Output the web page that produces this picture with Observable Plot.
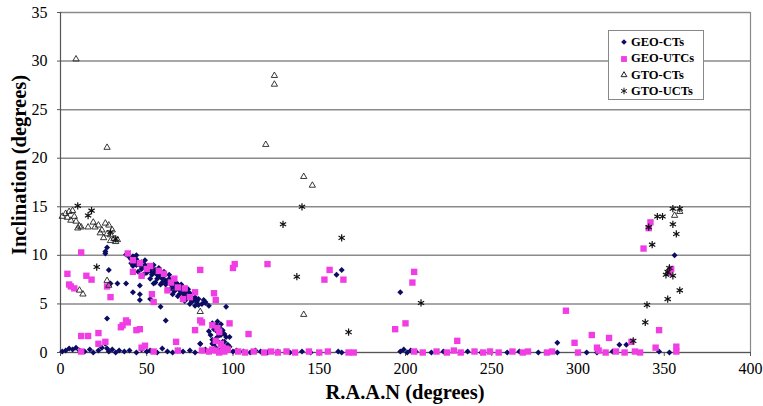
<!DOCTYPE html>
<html>
<head>
<meta charset="utf-8">
<script src="https://cdn.jsdelivr.net/npm/d3@7"></script>
<script src="https://cdn.jsdelivr.net/npm/@observablehq/plot@0.6"></script>
<style>
  body { margin: 0; background: #fff; }
  #chart { position: relative; width: 763px; height: 406px; overflow: hidden; }
  .title { position: absolute; font: bold 20.5px "Liberation Serif", "Times New Roman", serif; color: #000; white-space: nowrap; }
  #xtitle { left: 405px; top: 392px; transform: translate(-50%, -50%); }
  #ytitle { left: 19px; top: 165px; transform: translate(-50%, -50%) rotate(-90deg); }
  #legend { position: absolute; left: 608px; top: 30px; width: 96px; height: 70px; box-sizing: border-box;
            border: 1px solid #888; background: #fff; padding: 3px 0 0 11px;
            font: bold 12.5px "Liberation Serif", "Times New Roman", serif; }
  #legend div { height: 16.4px; line-height: 16.4px; white-space: nowrap; }
  #legend svg { vertical-align: middle; margin-right: 3px; position: relative; top: -1px; }
</style>
</head>
<body>
<div id="chart"></div>
<script>
// Axis ticks
const xTicks = [0, 50, 100, 150, 200, 250, 300, 350, 400];
const yTicks = [0, 5, 10, 15, 20, 25, 30, 35];

// Series names (legend order)
const seriesNames = ["GEO-CTs", "GEO-UTCs", "GTO-CTs", "GTO-UCTs"];

// GEO-CTs: [R.A.A.N, inclination] in degrees
const geoCTs = [
  [1,0.1],[3,0.2],[5,0.4],[7,0.3],[9,0.5],[11,0.2],[14,0.1],[17,0.3],[19,0.0],[22,0.2],[24,0.5],[26,0.9],
  [27,0.4],[28,0.1],[30,0.3],[32,0.0],[34,0.2],[37,0.1],[40,0.2],[44,0.0],[47,0.3],[50,0.1],[52,0.2],[56,0.0],
  [59,0.4],[62,0.1],[65,0.0],[68,0.2],[71,0.1],[75,0.2],[78,0.0],[81,0.9],[84,0.3],[86,0.1],[88,0.9],[90,0.5],
  [92,0.2],[94,1.1],[96,0.3],[98,0.6],[100,0.1],[102,0.2],[106,0.1],[110,0.0],[113,0.2],[116,0.1],[120,0.0],
  [126,0.1],[133,0.0],[140,0.1],[145,0.0],[161,0.1],[163,0.0],[197,0.1],[199,0.3],[201,0.0],[203,0.2],[206,0.1],
  [215,0.0],[222,0.1],[236,0.1],[244,0.0],[249,0.1],[259,0.0],[266,0.1],[277,0.0],[288,0.0],[288,1.0],[305,0.0],
  [311,0.0],[320,0.1],[324,0.8],[328,0.8],[347,0.1],[353,0.0],
  [26,10.4],[27,10.8],[26,10.2],[28,8.5],[27,3.5],[29,7.1],[33,7.1],[38,7.1],[42,6.2],[46,6.0],[46,6.9],
  [54,7.1],[46,5.4],[52,5.5],[58,4.7],[61,3.3],
  [38,10.1],[40,9.8],[41,9.6],[42,9.9],[43,9.4],[44,9.6],[45,9.2],[46,9.0],[47,9.3],[48,8.8],[49,9.0],[50,8.6],
  [51,8.9],[52,8.4],[53,8.7],[54,8.2],[55,8.5],[56,8.0],[57,7.8],[58,8.1],[59,7.6],[60,7.9],[61,7.4],[62,7.2],
  [63,7.6],[64,7.0],[65,7.3],[66,6.8],[67,6.6],[68,7.0],[69,6.4],[70,6.7],[71,6.2],[72,6.0],[73,6.3],[74,5.8],
  [75,6.1],[76,5.6],[77,5.4],[78,5.7],[79,5.2],[80,5.5],[82,5.0],[84,5.2],[86,4.8],
  [42,8.9],[45,8.3],[48,8.0],[52,7.6],[55,7.2],[58,7.0],[62,6.4],[65,6.0],[68,5.8],[72,5.3],[75,5.0],[78,4.8],
  [41,9.2],[44,9.0],[47,8.6],[50,8.2],[53,8.0],[56,7.6],[59,7.2],[61,7.0],[64,6.6],[66,6.3],[69,6.0],[71,5.7],
  [73,5.5],[76,5.2],[80,4.9],[44,10.0],[49,9.5],[54,9.0],[57,8.7],[60,8.3],[63,8.0],[67,7.2],[70,7.0],[74,6.5],
  [76,5.4],[79,5.3],[83,5.4],[96,4.7],[84,5.1],
  [88,3.0],[89,2.4],[91,2.1],[92,2.6],[96,1.6],[98,1.6],[95,1.1],[89,0.9],[87,1.8],[81,0.9],[90,1.4],[93,1.8],
  [94,2.3],[97,0.8],[91,3.2],[92,1.0],[86,2.2],[90,2.8],[93,2.9],[88,1.3],[91,1.6],[94,0.6],[95,1.9],[90,0.4],
  [160,8.0],[163,8.5],[197,6.2],[356,10.0],[354,8.4]
];

// GEO-UTCs
const geoUTCs = [
  [4,8.1],[5,7.0],[6,6.8],[8,6.6],[12,10.3],[15,7.9],[18,7.5],[27,6.8],[29,5.7],[12,1.7],[16,1.7],[22,2.0],
  [22,0.9],[12,0.1],[36,2.8],[39,3.1],[44,2.3],[46,2.4],[35,2.6],[49,0.7],[54,0.1],[26,1.1],[47,0.5],[67,1.1],
  [68,0.2],[38,3.3],
  [39,10.2],[42,9.5],[42,8.3],[47,7.9],[52,8.9],[57,8.4],[60,8.1],[62,6.4],[53,6.0],[54,5.2],[66,7.6],[68,6.7],
  [71,5.5],[75,5.7],[78,6.2],[46,9.2],[50,8.6],[64,7.2],[72,6.6],
  [82,3.1],[78,2.3],[81,3.3],[88,2.8],[92,2.1],[98,3.0],[109,1.9],[94,0.5],[96,0.4],[82,0.2],[89,6.1],[90,5.4],
  [90,1.2],[93,0.9],[91,2.5],
  [81,8.5],[101,9.1],[100,8.7],[120,9.1],[156,8.5],[153,7.5],[164,7.5],[205,8.3],[204,7.2],[194,2.4],[200,3.0],
  [230,1.2],[293,4.3],[298,1.0],[308,1.8],[318,1.5],[311,0.5],[331,1.1],[345,0.5],[357,0.6],[347,2.3],[338,10.7],
  [342,13.4],[341,12.8],[354,8.6],[353,8.2],
  [86,0.1],[88,0.3],[90,0.2],[92,0.0],[95,0.1],[97,0.3],[103,0.1],[107,0.0],[112,0.1],[118,0.0],[122,0.1],
  [126,0.0],[131,0.1],[136,0.0],[144,0.1],[150,0.0],[155,0.1],[167,0.0],[170,0.0],[205,0.1],[210,0.0],[218,0.1],
  [224,0.0],[228,0.2],[232,0.0],[240,0.1],[245,0.0],[249,0.1],[254,0.0],[262,0.1],[268,0.0],[271,0.1],[282,0.0],
  [285,0.1],[300,0.0],[312,0.2],[316,0.0],[322,0.1],[327,0.0],[333,0.1],[336,0.0],[357,0.1]
];

// GTO-CTs
const gtoCTs = [
  [9,30.2],[27,21.1],[119,21.4],[124,28.5],[124,27.6],[141,18.1],[146,17.2],[141,3.9],[81,4.2],[356,14.1],
  [359,14.5],[11,6.4],[13,6.0],[27,7.4],[28,6.9],
  [1,14.0],[3,14.3],[4,13.9],[5,14.5],[6,13.6],[7,14.6],[8,14.0],[9,13.5],[10,12.8],[11,13.0],[12,12.9],
  [16,12.9],[19,13.4],[20,12.9],[22,13.1],[23,12.3],[24,12.6],[26,13.3],[28,13.1],[25,11.8],[27,12.2],
  [30,12.6],[29,12.1],[31,11.7],[32,11.4],[33,11.6],[29,11.5]
];

// GTO-UCTs
const gtoUCTs = [
  [10,15.1],[16,14.1],[18,14.6],[21,8.8],[29,12.4],[32,11.7],
  [129,13.2],[137,7.8],[140,15.0],[163,11.8],[167,2.1],[209,5.1],
  [355,14.8],[359,14.8],[346,14.0],[349,14.0],[355,13.2],[357,12.2],[341,12.9],[343,11.1],[352,8.3],[355,7.9],
  [359,6.4],[352,5.5],[340,4.9],[339,3.1],[332,1.2],[353,8.7],[351,8.0]
];

const navy = "#0c0c63", magenta = "#f03ee4";
const serif = "Liberation Serif, Times New Roman, serif";

const chart = Plot.plot({
  width: 763,
  height: 406,
  marginLeft: 60,
  marginRight: 13,
  marginTop: 12,
  marginBottom: 54,
  x: {domain: [0, 400]},
  y: {domain: [0, 35]},
  style: {fontFamily: serif, fontSize: "16px", color: "#000", background: "#fff"},
  marks: [
    Plot.ruleY(yTicks, {stroke: "#8a8a8a", strokeWidth: 1.5}),
    Plot.ruleX([400], {stroke: "#8a8a8a", strokeWidth: 1.2}),
    Plot.ruleX([0], {stroke: "#555", strokeWidth: 1.2}),
    Plot.ruleY([0], {stroke: "#555", strokeWidth: 1.2}),
    Plot.axisX({ticks: xTicks, tickSize: 4, tickPadding: 6, label: null, stroke: "#555", fontSize: 16}),
    Plot.axisY({ticks: yTicks, tickSize: 3, tickPadding: 10, label: null, stroke: "#555", fontSize: 16}),
    Plot.dot(geoCTs, {x: d => d[0], y: d => d[1], symbol: "diamond2", r: 2.7, fill: navy}),
    Plot.dot(geoUTCs, {x: d => d[0], y: d => d[1], symbol: "square", r: 3.6, fill: magenta}),
    Plot.dot(gtoCTs, {x: d => d[0], y: d => d[1], symbol: "triangle2", r: 3, stroke: "#222", strokeWidth: 0.9, fill: "none"}),
    Plot.dot(gtoUCTs, {x: d => d[0], y: d => d[1], symbol: "asterisk", r: 3.4, stroke: "#111", strokeWidth: 1.2})
  ]
});

// Serif tick labels
d3.select(chart).selectAll("text").style("font-family", "'Liberation Serif', 'Times New Roman', serif");

const root = document.getElementById("chart");
root.appendChild(chart);

// Axis titles
const xt = document.createElement("div");
xt.className = "title"; xt.id = "xtitle"; xt.textContent = "R.A.A.N (degrees)";
root.appendChild(xt);
const yt = document.createElement("div");
yt.className = "title"; yt.id = "ytitle"; yt.textContent = "Inclination (degrees)";
root.appendChild(yt);

// Legend
const legendStyles = [
  {type: d3.symbolDiamond2, size: 20, fill: navy, stroke: "none"},
  {type: d3.symbolSquare, size: 34, fill: magenta, stroke: "none"},
  {type: d3.symbolTriangle2, size: 24, fill: "none", stroke: "#222"},
  {type: d3.symbolAsterisk, size: 30, fill: "none", stroke: "#111"}
];
const legend = document.createElement("div");
legend.id = "legend";
seriesNames.forEach((name, i) => {
  const s = legendStyles[i];
  const row = document.createElement("div");
  const path = d3.symbol().type(s.type).size(s.size)();
  row.innerHTML = `<svg width="8" height="10" viewBox="-4 -5 8 10"><path d="${path}" fill="${s.fill}" stroke="${s.stroke}" stroke-width="1"/></svg>`;
  row.appendChild(document.createTextNode(name));
  legend.appendChild(row);
});
root.appendChild(legend);
</script>
</body>
</html>
